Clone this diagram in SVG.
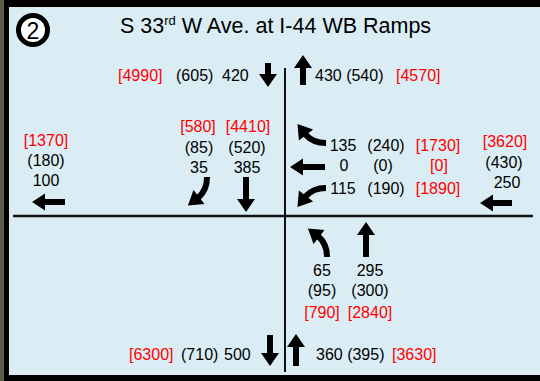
<svg xmlns="http://www.w3.org/2000/svg" width="540" height="381" viewBox="0 0 540 381">
<style>
text{font-family:"Liberation Sans",Arial,sans-serif;font-size:16px;fill:#000}
.r{fill:#f00}
.m{text-anchor:middle}
.arr{fill:#000}
.crv{fill:none;stroke:#000;stroke-width:6;stroke-linecap:butt}
.ln{stroke:#111;fill:none}
</style>
<defs>
<g id="curveUL">
<path class="crv" d="M0 0 Q-13 0 -20.5 -8.5"/>
<polygon class="arr" points="-28.5,-19.1 -12.9,-13.5 -27.1,-2.5"/>
</g>
</defs>
<rect x="0" y="0" width="540" height="381" fill="#000"/>
<rect x="0" y="0" width="4" height="381" fill="#5b5c4a"/>
<rect x="9" y="7" width="531" height="368" fill="#dbedf4"/>
<g id="title">
<circle cx="33" cy="30" r="14.5" fill="#fff" stroke="#000" stroke-width="5"/>
<text x="33" y="38.5" class="m" style="font-size:23px">2</text>
<text x="120" y="33" style="font-size:21.5px">S 33<tspan dy="-8" style="font-size:13px">rd</tspan><tspan dy="8"> W Ave. at I-44 WB Ramps</tspan></text>
</g>
<g id="connectors">
<line class="ln" x1="285" y1="68" x2="285" y2="372" stroke-width="2"/>
<line class="ln" x1="13" y1="216" x2="533" y2="216" stroke-width="2.5"/>
</g>
<g id="north-leg">
<text x="118" y="81" class="r">[4990]</text>
<text x="176" y="81">(605)</text>
<text x="222" y="81">420</text>
<polygon class="arr" points="268,87 277,74 271,74 271,63 265,63 265,74 259,74"/>
<text x="315" y="81">430 (540)</text>
<text x="396" y="81" class="r">[4570]</text>
<polygon class="arr" points="303,55 312,68 306,68 306,85 300,85 300,68 294,68"/>
</g>
<g id="southbound">
<text x="198" y="132" class="m r">[580]</text>
<text x="248" y="132" class="m r">[4410]</text>
<text x="199" y="153" class="m">(85)</text>
<text x="247" y="153" class="m">(520)</text>
<text x="199" y="173" class="m">35</text>
<text x="247" y="173" class="m">385</text>
<use href="#curveUL" transform="translate(207,177) rotate(-90)"/>
<polygon class="arr" points="246,212 255,199 249,199 249,177 243,177 243,199 237,199"/>
</g>
<g id="west-leg">
<text x="46" y="146" class="m r">[1370]</text>
<text x="46" y="166" class="m">(180)</text>
<text x="46" y="186" class="m">100</text>
<polygon class="arr" points="32,202 45,193.5 45,199 65,199 65,205 45,205 45,210.5"/>
</g>
<g id="westbound">
<use href="#curveUL" transform="translate(326,143)"/>
<text x="343" y="151" class="m">135</text>
<text x="386" y="151" class="m">(240)</text>
<text x="438" y="151" class="m r">[1730]</text>
<polygon class="arr" points="290,167 303,158.5 303,164 325,164 325,170 303,170 303,175.5"/>
<text x="344" y="171" class="m">0</text>
<text x="383" y="171" class="m">(0)</text>
<text x="439" y="171" class="m r">[0]</text>
<use href="#curveUL" transform="translate(326,188) scale(1,-1)"/>
<text x="343" y="194" class="m">115</text>
<text x="386" y="194" class="m">(190)</text>
<text x="438" y="194" class="m r">[1890]</text>
</g>
<g id="east-leg">
<text x="505" y="147" class="m r">[3620]</text>
<text x="504" y="168" class="m">(430)</text>
<text x="507" y="188" class="m">250</text>
<polygon class="arr" points="480,203 493,194.5 493,200 512,200 512,206 493,206 493,211.5"/>
</g>
<g id="northbound">
<use href="#curveUL" transform="translate(327,257) rotate(90) scale(1,-1)"/>
<polygon class="arr" points="366,222 375,235 369,235 369,257 363,257 363,235 357,235"/>
<text x="322" y="276" class="m">65</text>
<text x="322" y="296" class="m">(95)</text>
<text x="322" y="318" class="m r">[790]</text>
<text x="370" y="276" class="m">295</text>
<text x="370" y="296" class="m">(300)</text>
<text x="370" y="318" class="m r">[2840]</text>
</g>
<g id="south-leg">
<text x="129" y="360" class="r">[6300]</text>
<text x="181" y="360">(710)</text>
<text x="224" y="360">500</text>
<polygon class="arr" points="270,366 279,353 273,353 273,335 267,335 267,353 261,353"/>
<polygon class="arr" points="296,334 305,347 299,347 299,366 293,366 293,347 287,347"/>
<text x="316" y="360">360 (395)</text>
<text x="392" y="360" class="r">[3630]</text>
</g>
</svg>
